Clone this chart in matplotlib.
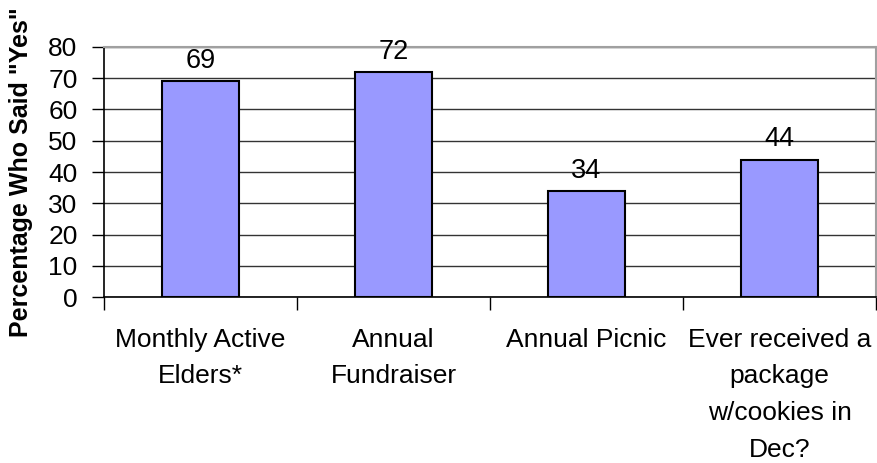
import numpy as np
import matplotlib
matplotlib.use("Agg")
import matplotlib.pyplot as plt

# -----------------------------
# DATA
# -----------------------------
categories = [
    "Monthly Active\nElders*",
    "Annual\nFundraiser",
    "Annual Picnic",
    "Ever received a\npackage\nw/cookies in\nDec?",
]
percent_yes = [69, 72, 34, 44]
y_ticks = [0, 10, 20, 30, 40, 50, 60, 70, 80]

# -----------------------------
# STYLE
# -----------------------------
plt.rcParams["font.family"] = ["Liberation Sans", "DejaVu Sans"]
BAR_COLOR = "#9999FF"
GRID_COLOR = "#333333"
FRAME_COLOR = "#A0A0A0"

fig = plt.figure(figsize=(8.77, 4.63), dpi=100)
ax = fig.add_axes([0.1186, 0.3585, 0.8803, 0.54])

x = np.arange(len(categories))
bars = ax.bar(x, percent_yes, width=0.4, color=BAR_COLOR,
              edgecolor="black", linewidth=1.5, zorder=3)

# value labels above each bar
for xi, v in zip(x, percent_yes):
    ax.text(xi, v + 4.2, f"{v}", ha="center", va="baseline", fontsize=19.5)

ax.set_xlim(-0.5, len(categories) - 0.5)
ax.set_ylim(0, 80)
ax.set_yticks(y_ticks)
ax.tick_params(axis="y", labelsize=19, length=9, width=1, direction="out", pad=10)

# category boundaries get tick marks, centres get the labels
ax.set_xticks(np.arange(len(categories) + 1) - 0.5)
ax.set_xticklabels([])
ax.tick_params(axis="x", which="major", length=9, width=1, direction="out")
ax.set_xticks(x, minor=True)
ax.set_xticklabels(categories, minor=True, fontsize=19, linespacing=1.68)
ax.tick_params(axis="x", which="minor", length=0, pad=22)

ax.yaxis.grid(True, color=GRID_COLOR, linewidth=1, zorder=0)
ax.set_axisbelow(True)

for side in ["left", "bottom"]:
    ax.spines[side].set_color("black")
    ax.spines[side].set_linewidth(1.2)
for side in ["top", "right"]:
    ax.spines[side].set_color(FRAME_COLOR)
    ax.spines[side].set_linewidth(1.5)

ax.set_ylabel('Percentage Who Said "Yes"', fontsize=18, fontweight="bold")
ax.yaxis.set_label_coords(-0.092, 0.5)

fig.savefig("out.png", dpi=100)
